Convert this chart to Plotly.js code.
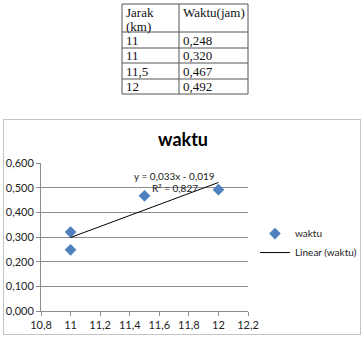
<!DOCTYPE html>
<html>
<head>
<meta charset="utf-8">
<script src="https://cdn.plot.ly/plotly-3.0.1.min.js"></script>
<style>
  html, body { margin: 0; padding: 0; background: #fff; width: 364px; height: 339px; overflow: hidden; }
  #tbl { position: absolute; left: 0px; top: 0px; width: 364px; height: 118px; }
  #chart { position: absolute; left: 3px; top: 119px; width: 356px; height: 214px; border: 1px solid #c4c4c4; }
</style>
</head>
<body>
<div id="tbl"></div>
<div id="chart"></div>
<script>
// Data
const headerLabels = ["Jarak<br>(km)", "Waktu(jam)"];
const jarakLabels = ["11", "11", "11,5", "12"];
const waktuLabels = ["0,248", "0,320", "0,467", "0,492"];
const jarak = [11, 11, 11.5, 12];
const waktu = [0.248, 0.320, 0.467, 0.492];
const trendX = [11, 12];
const trendY = [0.298, 0.521];
const xTickVals = [10.8, 11, 11.2, 11.4, 11.6, 11.8, 12, 12.2];
const yTickVals = [0, 0.1, 0.2, 0.3, 0.4, 0.5, 0.6];
const chartTitle = "waktu";
const seriesName = "waktu";
const trendName = "Linear (waktu)";
const eqLine1 = "y = 0,033x - 0,019";
const eqLine2 = "R² = 0,827";

// ---- Table (drawn with Plotly annotations and shapes on a pixel-like grid) ----
const colEdges = [122, 179, 248];
const rowEdges = [4, 32, 48, 63, 79, 94];
const serif = "Liberation Serif, Times New Roman, serif";
const tShapes = [];
rowEdges.forEach(y => tShapes.push({ type: "line", xref: "x", yref: "y", x0: colEdges[0], x1: colEdges[2], y0: y, y1: y, line: { color: "#555", width: 1 } }));
colEdges.forEach(x => tShapes.push({ type: "line", xref: "x", yref: "y", x0: x, x1: x, y0: rowEdges[0], y1: rowEdges[rowEdges.length - 1], line: { color: "#555", width: 1 } }));
const tAnn = [];
headerLabels.forEach((h, c) => {
  h.split("<br>").forEach((line, k) => {
    tAnn.push({ x: colEdges[c] + 2, y: rowEdges[0] + 8.5 + k * 13.5, text: line, xanchor: "left", yanchor: "middle",
      showarrow: false, align: "left", font: { family: serif, size: 13, color: "#111" } });
  });
});
[jarakLabels, waktuLabels].forEach((col, c) => {
  col.forEach((v, r) => {
    tAnn.push({ x: colEdges[c] + 2, y: (rowEdges[r + 1] + rowEdges[r + 2]) / 2, text: v,
      xanchor: "left", yanchor: "middle", showarrow: false,
      font: { family: serif, size: 13, color: "#111" } });
  });
});
Plotly.newPlot("tbl", [], {
  width: 364, height: 118,
  margin: { l: 0, r: 0, t: 0, b: 0 },
  paper_bgcolor: "#fff", plot_bgcolor: "#fff",
  xaxis: { range: [0, 364], visible: false, fixedrange: true },
  yaxis: { range: [118, 0], visible: false, fixedrange: true },
  shapes: tShapes,
  annotations: tAnn,
  showlegend: false
}, { staticPlot: true, displayModeBar: false });

// ---- Chart ----
const fontFam = "Lato, 'Open Sans', sans-serif";
Plotly.newPlot("chart", [
  {
    type: "scatter", mode: "markers", name: seriesName,
    x: jarak, y: waktu,
    marker: { symbol: "diamond", size: 9, color: "#4F81BD" }
  },
  {
    type: "scatter", mode: "lines", name: trendName,
    x: trendX, y: trendY,
    line: { color: "#000", width: 1 }
  }
], {
  width: 356, height: 214,
  margin: { l: 37, r: 112, t: 43, b: 23 },
  paper_bgcolor: "#fff", plot_bgcolor: "#fff",
  separators: ",.",
  font: { family: fontFam, size: 11, color: "#222" },
  title: {
    text: "<b>" + chartTitle + "</b>",
    font: { family: fontFam, size: 18, color: "#000" },
    x: 0.503, xanchor: "center", xref: "container",
    y: 0.906, yanchor: "middle", yref: "container"
  },
  xaxis: {
    range: [10.8, 12.2], tickvals: xTickVals,
    showgrid: false, zeroline: false,
    showline: true, linecolor: "#8c8c8c", linewidth: 1,
    ticks: "outside", ticklen: 4, tickcolor: "#8c8c8c",
    tickfont: { family: fontFam, size: 11, color: "#222" }
  },
  yaxis: {
    range: [0, 0.6], tickvals: yTickVals, tickformat: ".3f",
    showgrid: true, gridcolor: "#8c8c8c", gridwidth: 1,
    zeroline: false,
    showline: true, linecolor: "#8c8c8c", linewidth: 1,
    ticks: "outside", ticklen: 4, tickcolor: "#8c8c8c",
    tickfont: { family: fontFam, size: 11, color: "#222" }
  },
  showlegend: true,
  legend: {
    xref: "container", yref: "container",
    x: 0.705, xanchor: "left", y: 0.425, yanchor: "middle",
    font: { family: fontFam, size: 10, color: "#222" },
    bgcolor: "rgba(0,0,0,0)", tracegroupgap: 0, itemwidth: 30
  },
  annotations: [
    { xref: "paper", yref: "paper", x: 0.647, y: 0.915, text: eqLine1, showarrow: false,
      font: { family: fontFam, size: 10, color: "#222" }, xanchor: "center", yanchor: "middle" },
    { xref: "paper", yref: "paper", x: 0.647, y: 0.83, text: eqLine2, showarrow: false,
      font: { family: fontFam, size: 10, color: "#222" }, xanchor: "center", yanchor: "middle" }
  ]
}, { staticPlot: true, displayModeBar: false });
</script>
</body>
</html>
